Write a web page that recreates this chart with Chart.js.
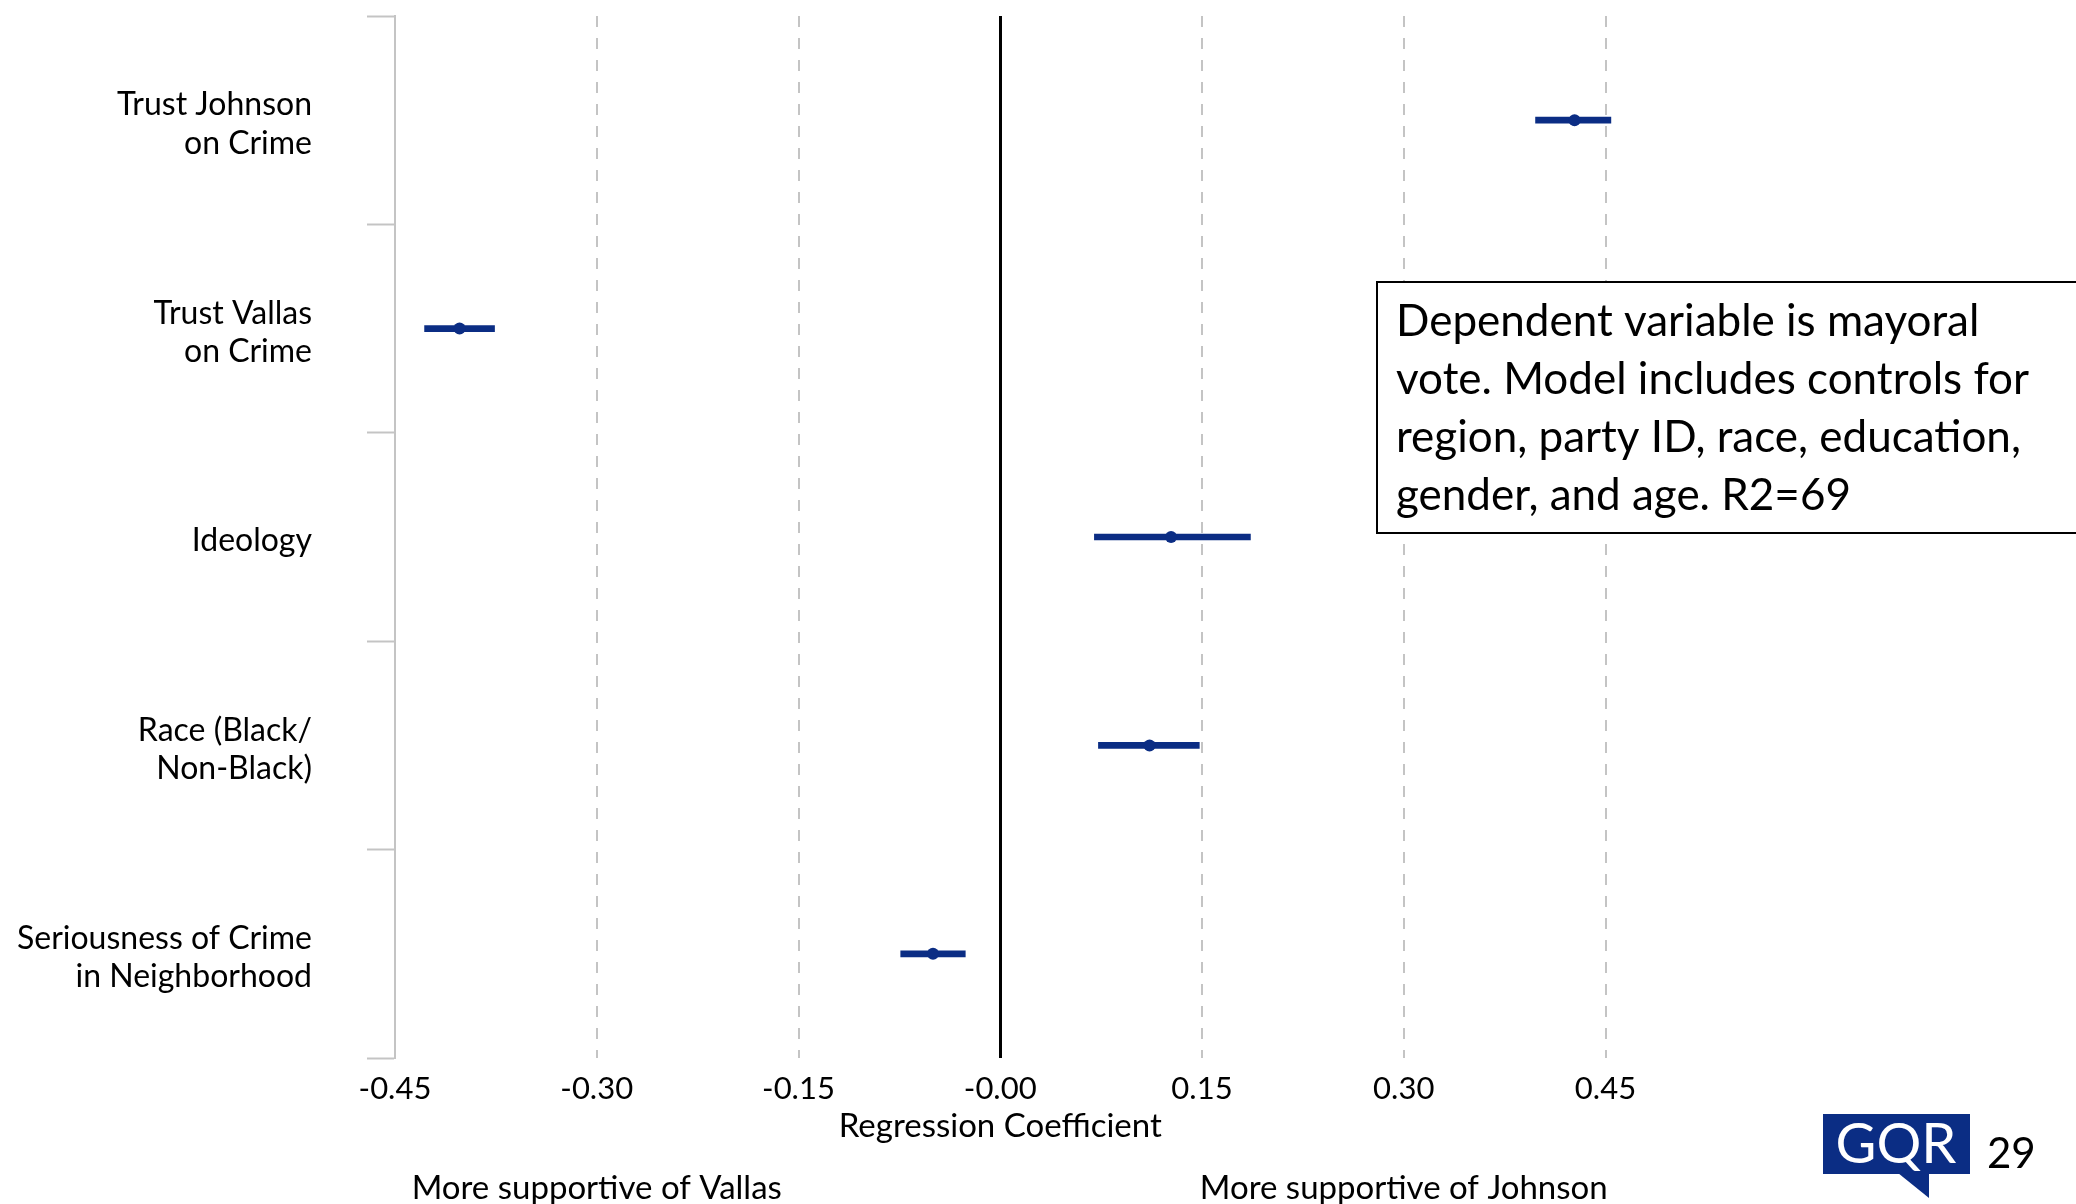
<!DOCTYPE html>
<html>
<head>
<meta charset="utf-8">
<script src="https://cdn.jsdelivr.net/npm/chart.js@4.4.1/dist/chart.umd.min.js"></script>
<style>
  body { margin: 0; background: #fff; }
  #wrap { width: 2076px; height: 1204px; }
</style>
</head>
<body>
<div id="wrap"><canvas id="grafico" width="2076" height="1204"></canvas></div>
<script>
// Dados do gráfico
const categorias = [
    ['Trust Johnson', 'on Crime'],
    ['Trust Vallas', 'on Crime'],
    'Ideology',
    ['Race (Black/', 'Non-Black)'],
    ['Seriousness of Crime', 'in Neighborhood']
];
const coeficientes = [0.427, -0.402, 0.127, 0.111, -0.050];
const limiteInferior = [0.398, -0.428, 0.070, 0.073, -0.074];
const limiteSuperior = [0.454, -0.376, 0.186, 0.148, -0.026];
const valoresTicks = [-0.45, -0.30, -0.15, 0, 0.15, 0.30, 0.45];
const rotulosTicks = ['-0.45', '-0.30', '-0.15', '-0.00', '0.15', '0.30', '0.45'];

const nota = [
    'Dependent variable is mayoral',
    'vote. Model includes controls for',
    'region, party ID, race, education,',
    'gender, and age. R2=69'
];

const azul = '#0b2d84';
const cinza = '#c4c4c4';

Chart.defaults.font.family = 'Lato, "Open Sans", sans-serif';
Chart.defaults.color = '#000';

// Textos extras: títulos do eixo, caixa de nota e logo
const extras = {
    id: 'extras',
    afterDraw(chart) {
        const ctx = chart.ctx;
        const x = chart.scales.x;
        ctx.save();
        ctx.fillStyle = '#000';
        ctx.textAlign = 'center';
        ctx.textBaseline = 'middle';
        ctx.font = '33px Lato';
        ctx.fillText('Regression Coefficient', x.getPixelForValue(0), 1126);
        ctx.fillText('More supportive of Vallas', x.getPixelForValue(-0.30), 1188);
        ctx.fillText('More supportive of Johnson', x.getPixelForValue(0.30), 1188);

        // caixa de nota
        ctx.fillStyle = '#fff';
        ctx.fillRect(1377, 282, 720, 251);
        ctx.strokeStyle = '#000';
        ctx.lineWidth = 2;
        ctx.strokeRect(1377, 282, 720, 251);
        ctx.fillStyle = '#000';
        ctx.textAlign = 'left';
        ctx.font = '44px Lato';
        nota.forEach((linha, i) => ctx.fillText(linha, 1396, 322 + i * 58));

        // logo GQR
        ctx.fillStyle = azul;
        ctx.fillRect(1823, 1114, 147, 60);
        ctx.beginPath();
        ctx.moveTo(1898, 1173);
        ctx.lineTo(1929, 1173);
        ctx.lineTo(1929, 1198);
        ctx.closePath();
        ctx.fill();
        ctx.fillStyle = '#fff';
        ctx.textAlign = 'center';
        ctx.font = '56px Lato';
        ctx.fillText('GQR', 1896, 1145);
        ctx.fillStyle = '#000';
        ctx.textAlign = 'left';
        ctx.font = '42px Lato';
        ctx.fillText('29', 1987, 1154);
        ctx.restore();
    }
};

const ctx = document.getElementById('grafico').getContext('2d');
new Chart(ctx, {
    type: 'bar',
    data: {
        labels: categorias,
        datasets: [
            {
                type: 'line',
                indexAxis: 'y',
                data: coeficientes,
                showLine: false,
                pointRadius: 6,
                pointHoverRadius: 6,
                pointBackgroundColor: azul,
                pointBorderWidth: 0,
                order: 0
            },
            {
                type: 'bar',
                indexAxis: 'y',
                data: limiteInferior.map((v, i) => [v, limiteSuperior[i]]),
                backgroundColor: azul,
                borderWidth: 0,
                borderSkipped: false,
                barThickness: 6,
                order: 1
            }
        ]
    },
    options: {
        indexAxis: 'y',
        responsive: false,
        animation: false,
        layout: { padding: { top: 16, right: 67, bottom: 0, left: 0 } },
        plugins: {
            legend: { display: false },
            tooltip: { enabled: false }
        },
        scales: {
            x: {
                type: 'linear',
                min: -0.45,
                max: 0.75,
                afterBuildTicks: s => { s.ticks = valoresTicks.map(v => ({ value: v })); },
                afterFit: s => { s.height = 146; s.paddingLeft = 0; s.paddingRight = 0; },
                ticks: {
                    autoSkip: false,
                    maxRotation: 0,
                    padding: 12,
                    font: { size: 31 },
                    color: '#000',
                    callback: (v, i) => rotulosTicks[i]
                },
                grid: {
                    drawTicks: false,
                    color: c => {
                        const v = c.tick ? c.tick.value : null;
                        if (v === 0) return '#000';
                        if (v === -0.45) return 'rgba(0,0,0,0)';
                        return cinza;
                    },
                    lineWidth: c => (c.tick && c.tick.value === 0 ? 3 : 2)
                },
                border: {
                    display: false,
                    dash: c => (c.tick && c.tick.value === 0 ? [] : [11, 11])
                }
            },
            y: {
                type: 'category',
                offset: true,
                afterFit: s => { s.width = 395; s.paddingTop = 0; s.paddingBottom = 0; },
                ticks: {
                    padding: 55,
                    labelOffset: 4,
                    font: { size: 32, lineHeight: 1.2 },
                    color: '#000'
                },
                grid: {
                    offset: true,
                    drawOnChartArea: false,
                    drawTicks: true,
                    tickLength: 28,
                    tickColor: cinza,
                    tickWidth: 2
                },
                border: { display: true, color: cinza, width: 2 }
            }
        }
    },
    plugins: [extras]
});
</script>
</body>
</html>
